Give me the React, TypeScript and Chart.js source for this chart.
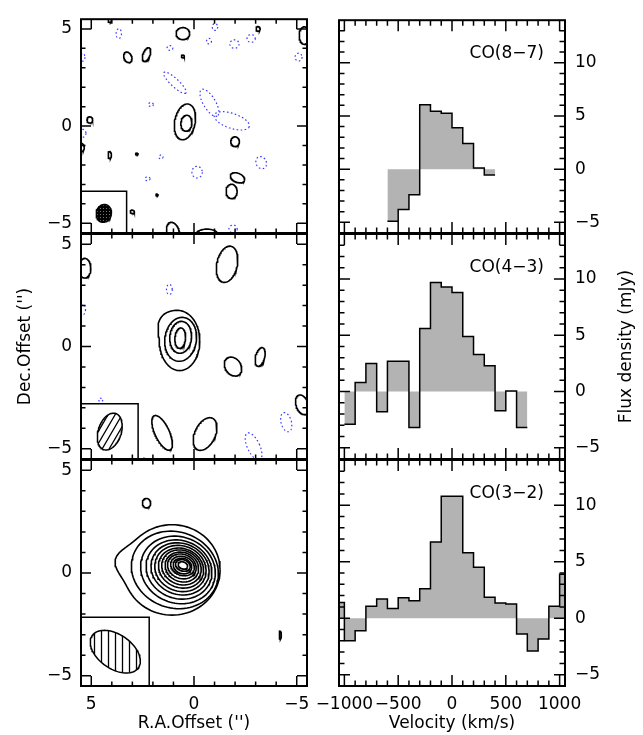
import React, { useEffect, useRef } from 'react';
import { Chart, registerables } from 'chart.js';

Chart.register(...registerables);

const FONT = 'DejaVu Sans';
const MINUS = '\u2212';

// ---------------- spectra (bin centres in km/s, flux density in mJy) ----------------
const binWidth = 100;
const co87Velocity = [-550, -450, -350, -250, -150, -50, 50, 150, 250, 350];
const co87Flux = [-4.9, -3.8, -2.4, 6.05, 5.45, 5.25, 3.9, 2.4, 0.1, -0.55];

const co43Velocity = [-950, -850, -750, -650, -550, -450, -350, -250, -150, -50, 50, 150, 250, 350, 450, 550, 650];
const co43Flux = [-2.9, 0.8, 2.5, -1.8, 2.7, 2.7, -3.2, 5.6, 9.7, 9.3, 8.8, 4.9, 3.3, 2.3, -1.7, 0.05, -3.2];

const co32Velocity = [-1050, -950, -850, -750, -650, -550, -450, -350, -250, -150, -50, 50, 150, 250, 350, 450, 550, 650, 750, 850, 950, 1050];
const co32Flux = [1.4, -2.0, -1.1, 1.05, 1.7, 0.85, 1.8, 1.55, 2.6, 6.75, 10.8, 10.8, 5.8, 4.5, 1.85, 1.35, 1.25, -1.4, -2.9, -1.85, 1.05, 3.9];

const lineLabels = ['CO(8\u22127)', 'CO(4\u22123)', 'CO(3\u22122)'];
const fluxTicks = [-5, 0, 5, 10];
const velocityTicks = [-1000, -500, 0, 500, 1000];
const mapTicks = [-5, 0, 5];

// ---------------- maps: contours as [x, y, a, b, tiltDeg, bumpDeg, bumpAmp, bumpWidth] (arcsec) --------
const co87Positive = [
  [0.44, 0.22, 0.5, 0.93, 10],
  [0.37, 0.15, 0.27, 0.41, 5],
  [0.54, 4.76, 0.33, 0.31, 0],
  [3.22, 3.54, 0.19, 0.28, -20],
  [2.31, 3.68, 0.17, 0.37, 20],
  [0.54, 3.59, 0.07, 0.07, 0],
  [-3.12, 5.0, 0.1, 0.12, 0],
  [-5.37, 4.66, 0.25, 0.45, 0],
  [5.07, 0.32, 0.14, 0.16, 0],
  [4.1, -1.49, 0.08, 0.18, 0],
  [2.78, -1.44, 0.06, 0.05, 0],
  [-2.0, -0.8, 0.21, 0.25, 0],
  [-2.12, -2.66, 0.37, 0.23, 25],
  [-1.83, -3.36, 0.27, 0.37, 0],
  [1.8, -3.54, 0.05, 0.05, 0],
  [3.0, -4.41, 0.1, 0.09, 0],
  [1.02, -5.44, 0.3, 0.5, -15],
  [-0.63, -5.6, 0.55, 0.3, 0],
  [5.46, -1.1, 0.12, 0.2, 0],
  [4.1, 5.45, 0.08, 0.12, 0],
];
const co87Negative = [
  [3.66, 4.76, 0.13, 0.25, 0],
  [1.17, 4.02, 0.14, 0.12, 0],
  [-1.02, 5.1, 0.13, 0.18, 0],
  [-0.73, 4.37, 0.12, 0.14, 0],
  [-1.97, 4.22, 0.22, 0.22, 0],
  [-2.78, 4.51, 0.2, 0.2, 0],
  [-5.09, 3.55, 0.17, 0.2, 0],
  [0.93, 2.23, 0.75, 0.2, 45],
  [-0.75, 1.2, 0.78, 0.3, 61],
  [-1.84, 0.27, 0.9, 0.38, 20],
  [2.1, 1.11, 0.12, 0.1, 0],
  [5.41, -0.37, 0.15, 0.2, 0],
  [1.61, -1.59, 0.1, 0.1, 0],
  [-0.15, -2.37, 0.25, 0.3, 0],
  [-3.27, -1.88, 0.25, 0.32, -20],
  [2.26, -2.71, 0.12, 0.1, 0],
  [-1.9, -5.29, 0.2, 0.2, 0],
  [5.41, 3.54, 0.1, 0.2, 0],
];
const co43Positive = [
  [0.67, 0.41, 0.26, 0.5, 5],
  [0.65, 0.45, 0.53, 0.78, 5],
  [0.65, 0.35, 0.77, 1.08, 8],
  [0.7, 0.27, 0.98, 1.45, 0, 228, 0.22, 0.5],
  [-1.61, 4.02, 0.5, 0.9, 12],
  [5.32, 3.83, 0.3, 0.48, 0],
  [-1.9, -0.98, 0.38, 0.5, -35],
  [-3.22, -0.51, 0.22, 0.47, 15],
  [-5.27, -2.85, 0.3, 0.5, -20],
  [1.55, -4.22, 0.35, 0.92, -25],
  [-0.54, -4.28, 0.5, 0.85, 25],
];
const co43Negative = [
  [1.2, 2.79, 0.14, 0.25, 0],
  [5.4, 1.81, 0.12, 0.25, 0],
  [4.54, -2.61, 0.1, 0.08, 0],
  [-4.49, -3.7, 0.25, 0.48, -15],
  [-2.9, -4.89, 0.3, 0.72, -25],
  [2.47, -5.55, 0.15, 0.1, 0],
];
const co32Positive = [
  [1.07, 0.15, 2.34, 2.2, 0, 190, 0.2, 0.3],
  [0.93, 0.15, 2.15, 1.85, 20],
  [0.78, 0.15, 1.85, 1.61, 22],
  [0.73, 0.17, 1.63, 1.41, 22],
  [0.68, 0.2, 1.44, 1.24, 22],
  [0.66, 0.22, 1.27, 1.1, 22],
  [0.63, 0.24, 1.12, 0.95, 22],
  [0.61, 0.27, 0.98, 0.83, 22],
  [0.59, 0.29, 0.83, 0.71, 22],
  [0.59, 0.32, 0.71, 0.59, 20],
  [0.56, 0.34, 0.59, 0.46, 20],
  [0.56, 0.34, 0.46, 0.37, 20],
  [0.54, 0.37, 0.37, 0.27, 20],
  [0.54, 0.37, 0.24, 0.17, 20],
  [2.31, 3.4, 0.2, 0.23, 0],
  [-4.2, -3.02, 0.05, 0.2, 0],
];
const co32Negative: number[][] = [];

const beams = [
  [4.39, -4.49, 0.37, 0.46, 10],
  [4.1, -4.16, 0.56, 0.93, 18],
  [3.83, -3.83, 1.37, 0.83, 35],
];
const beamBoxes = [
  [3.28, -3.35],
  [2.72, -2.8],
  [2.18, -2.15],
];
const beamFills = ['dots', 'diag', 'vert'];

const positives = [co87Positive, co43Positive, co32Positive];
const negatives = [co87Negative, co43Negative, co32Negative];
const velocities = [co87Velocity, co43Velocity, co32Velocity];
const fluxes = [co87Flux, co43Flux, co32Flux];

// ---------------- layout (page pixels) ----------------
const W = 643;
const H = 735;
const ROW_TOP = [8, 234, 460];
const ROW_BOTTOM = [233, 459, 686];
const MAP_LEFT = 81;
const MAP_RIGHT = 307;
const SPEC_LEFT = 339;
const SPEC_RIGHT = 565;

function fmt(v: number) {
  return v < 0 ? MINUS + Math.abs(v) : String(v);
}

function contourPoints(c: number[], n = 96) {
  const [cx, cy, a, b, deg, bumpDeg = 0, bumpAmp = 0, bumpW = 0.4] = c;
  const th = (deg * Math.PI) / 180;
  const pts: { x: number; y: number }[] = [];
  for (let i = 0; i <= n; i++) {
    const t = ((i % n) / n) * 2 * Math.PI;
    const lx = a * Math.cos(t);
    const ly = b * Math.sin(t);
    let sx = lx * Math.cos(th) - ly * Math.sin(th);
    let sy = lx * Math.sin(th) + ly * Math.cos(th);
    if (bumpAmp) {
      const phi = Math.atan2(sy, sx);
      let d = phi - (bumpDeg * Math.PI) / 180;
      d = Math.atan2(Math.sin(d), Math.cos(d));
      const f = 1 + bumpAmp * Math.exp(-((d / bumpW) ** 2));
      sx *= f;
      sy *= f;
    }
    pts.push({ x: cx - sx, y: cy - sy });
  }
  return pts;
}

function makePattern(kind: string): CanvasPattern | string {
  const c = document.createElement('canvas');
  const ctx = c.getContext('2d');
  if (!ctx) return '#000';
  if (kind === 'dots') {
    c.width = 3;
    c.height = 3;
    ctx.fillStyle = '#000';
    ctx.fillRect(0, 0, 3, 3);
    ctx.fillStyle = '#777';
    ctx.fillRect(1, 1, 1, 1);
  } else if (kind === 'vert') {
    c.width = 7;
    c.height = 7;
    ctx.fillStyle = '#fff';
    ctx.fillRect(0, 0, 7, 7);
    ctx.strokeStyle = '#000';
    ctx.lineWidth = 1.3;
    ctx.beginPath();
    ctx.moveTo(3.5, 0);
    ctx.lineTo(3.5, 7);
    ctx.stroke();
  } else {
    const tw = 7;
    const th = 12;
    c.width = tw;
    c.height = th;
    ctx.fillStyle = '#fff';
    ctx.fillRect(0, 0, tw, th);
    ctx.strokeStyle = '#000';
    ctx.lineWidth = 1.3;
    ctx.beginPath();
    for (const dx of [-tw, 0, tw]) {
      for (const dy of [-th, 0, th]) {
        ctx.moveTo(dx, th + dy);
        ctx.lineTo(dx + tw, dy);
      }
    }
    ctx.stroke();
  }
  return ctx.createPattern(c, 'repeat') || '#000';
}

type FrameOpts = {
  xMin: number; xMax: number; xStep: number; xMajor: number;
  yMin: number; yMax: number; yStep: number; yMajor: number;
  minor: number; major: number;
  label?: string;
  sideTitle?: string;
};

function framePlugin(o: FrameOpts) {
  return {
    id: 'frameTicks',
    afterDatasetsDraw(chart: any) {
      const { ctx, chartArea: a } = chart;
      const xs = chart.scales.x;
      const ys = chart.scales.y;
      ctx.save();
      ctx.strokeStyle = '#000';
      ctx.lineWidth = 1.5;
      ctx.beginPath();
      for (let k = Math.ceil(o.xMin / o.xStep); k * o.xStep <= o.xMax; k++) {
        const v = k * o.xStep;
        if (v <= o.xMin || v >= o.xMax) continue;
        const L = Math.abs(v % o.xMajor) < 1e-9 ? o.major : o.minor;
        const p = xs.getPixelForValue(v);
        ctx.moveTo(p, a.bottom);
        ctx.lineTo(p, a.bottom - L);
        ctx.moveTo(p, a.top);
        ctx.lineTo(p, a.top + L);
      }
      for (let k = Math.ceil(o.yMin / o.yStep); k * o.yStep <= o.yMax; k++) {
        const v = k * o.yStep;
        if (v <= o.yMin || v >= o.yMax) continue;
        const L = Math.abs(v % o.yMajor) < 1e-9 ? o.major : o.minor;
        const p = ys.getPixelForValue(v);
        ctx.moveTo(a.left, p);
        ctx.lineTo(a.left + L, p);
        ctx.moveTo(a.right, p);
        ctx.lineTo(a.right - L, p);
      }
      ctx.stroke();
      ctx.lineWidth = 2;
      ctx.strokeRect(a.left, a.top, a.right - a.left, a.bottom - a.top);
      ctx.fillStyle = '#000';
      ctx.font = `17px "${FONT}"`;
      if (o.label) {
        ctx.textAlign = 'right';
        ctx.textBaseline = 'alphabetic';
        ctx.fillText(o.label, a.right - 21, a.top + 38);
      }
      if (o.sideTitle) {
        ctx.translate(627, (a.top + a.bottom) / 2);
        ctx.rotate(-Math.PI / 2);
        ctx.textAlign = 'center';
        ctx.textBaseline = 'middle';
        ctx.fillText(o.sideTitle, 0, 0);
      }
      ctx.restore();
    },
  };
}

const tickFont = { family: FONT, size: 17 };

function makeMap(canvas: HTMLCanvasElement, i: number) {
  const bottomRow = i === 2;
  const datasets: any[] = [];
  const [bx, by] = beamBoxes[i];
  datasets.push({
    data: contourPoints(beams[i]),
    borderColor: '#000',
    borderWidth: 1.5,
    backgroundColor: makePattern(beamFills[i]),
    fill: 'shape',
    pointRadius: 0,
    clip: 0,
  });
  datasets.push({
    data: [
      { x: 5.5, y: -5.5 },
      { x: 5.5, y: by },
      { x: bx, y: by },
      { x: bx, y: -5.5 },
      { x: 5.5, y: -5.5 },
    ],
    borderColor: '#000',
    borderWidth: 1.5,
    backgroundColor: '#fff',
    fill: 'shape',
    pointRadius: 0,
    clip: 0,
  });
  for (const c of negatives[i]) {
    datasets.push({
      data: contourPoints(c),
      borderColor: '#3a3aff',
      borderWidth: 1.2,
      borderDash: [1.6, 2.4],
      fill: false,
      pointRadius: 0,
      clip: 0,
    });
  }
  for (const c of positives[i]) {
    datasets.push({
      data: contourPoints(c),
      borderColor: '#000',
      borderWidth: 1.6,
      fill: false,
      pointRadius: 0,
      clip: 0,
    });
  }
  return new Chart(canvas, {
    type: 'line',
    data: { datasets },
    options: {
      animation: false,
      responsive: false,
      events: [],
      layout: {
        padding: {
          left: MAP_LEFT - 70,
          right: W - MAP_RIGHT,
          top: ROW_TOP[i],
          bottom: bottomRow ? 0 : H - ROW_BOTTOM[i],
        },
      },
      elements: { point: { radius: 0 }, line: { tension: 0 } },
      plugins: { legend: { display: false }, tooltip: { enabled: false } },
      scales: {
        x: {
          type: 'linear',
          min: -5.5,
          max: 5.5,
          reverse: true,
          display: bottomRow,
          grid: { display: false, drawTicks: false },
          border: { display: false },
          afterBuildTicks: (s: any) => {
            s.ticks = mapTicks.map((value) => ({ value }));
          },
          afterFit: bottomRow
            ? (s: any) => {
                s.height = 49;
              }
            : undefined,
          ticks: {
            autoSkip: false,
            maxRotation: 0,
            minRotation: 0,
            padding: 8,
            color: '#000',
            font: tickFont,
            callback: (v: any) => fmt(Number(v)),
          },
          title: {
            display: bottomRow,
            text: "R.A.Offset ('')",
            color: '#000',
            font: tickFont,
            padding: { top: 0, bottom: 1 },
          },
        },
        y: {
          type: 'linear',
          min: -5.5,
          max: 5.5,
          position: 'left',
          grid: { display: false, drawTicks: false },
          border: { display: false },
          afterBuildTicks: (s: any) => {
            s.ticks = mapTicks.map((value) => ({ value }));
          },
          afterFit: (s: any) => {
            s.width = 70;
          },
          ticks: {
            autoSkip: false,
            padding: 9,
            color: '#000',
            font: tickFont,
            callback: (v: any) => fmt(Number(v)),
          },
          title: {
            display: i === 1,
            text: "Dec.Offset ('')",
            color: '#000',
            font: tickFont,
            padding: { top: 4.5, bottom: 0 },
          },
        },
      },
    },
    plugins: [
      framePlugin({
        xMin: -5.5, xMax: 5.5, xStep: 1, xMajor: 5,
        yMin: -5.5, yMax: 5.5, yStep: 1, yMajor: 5,
        minor: 4.5, major: 10,
      }),
    ],
  } as any);
}

function makeSpectrum(canvas: HTMLCanvasElement, i: number) {
  const bottomRow = i === 2;
  const vel = velocities[i];
  const flux = fluxes[i];
  const pts = vel.map((v, k) => ({ x: v - binWidth / 2, y: flux[k] }));
  pts.push({ x: vel[vel.length - 1] + binWidth / 2, y: flux[flux.length - 1] });
  return new Chart(canvas, {
    type: 'line',
    data: {
      datasets: [
        {
          data: pts,
          stepped: 'before',
          borderColor: '#000',
          borderWidth: 1.5,
          backgroundColor: '#b3b3b3',
          fill: 'origin',
          pointRadius: 0,
          clip: 0,
        },
      ],
    },
    options: {
      animation: false,
      responsive: false,
      events: [],
      layout: {
        padding: {
          left: SPEC_LEFT,
          right: W - SPEC_RIGHT - 78,
          top: ROW_TOP[i],
          bottom: bottomRow ? 0 : H - ROW_BOTTOM[i],
        },
      },
      elements: { point: { radius: 0 } },
      plugins: { legend: { display: false }, tooltip: { enabled: false } },
      scales: {
        x: {
          type: 'linear',
          min: -1050,
          max: 1050,
          display: bottomRow,
          grid: { display: false, drawTicks: false },
          border: { display: false },
          afterBuildTicks: (s: any) => {
            s.ticks = velocityTicks.map((value) => ({ value }));
          },
          afterFit: bottomRow
            ? (s: any) => {
                s.height = 49;
              }
            : undefined,
          ticks: {
            autoSkip: false,
            maxRotation: 0,
            minRotation: 0,
            padding: 8,
            color: '#000',
            font: tickFont,
            callback: (v: any) => fmt(Number(v)),
          },
          title: {
            display: bottomRow,
            text: 'Velocity (km/s)',
            color: '#000',
            font: tickFont,
            padding: { top: 0, bottom: 1 },
          },
        },
        y: {
          type: 'linear',
          min: -6,
          max: 14,
          position: 'right',
          grid: { display: false, drawTicks: false },
          border: { display: false },
          afterBuildTicks: (s: any) => {
            s.ticks = fluxTicks.map((value) => ({ value }));
          },
          afterFit: (s: any) => {
            s.width = 78;
          },
          ticks: {
            autoSkip: false,
            padding: 10,
            color: '#000',
            font: tickFont,
            callback: (v: any) => fmt(Number(v)),
          },
        },
      },
    },
    plugins: [
      framePlugin({
        xMin: -1050, xMax: 1050, xStep: 100, xMajor: 500,
        yMin: -6, yMax: 14, yStep: 1, yMajor: 5,
        minor: 5.5, major: 11,
        label: lineLabels[i],
        sideTitle: i === 1 ? 'Flux density (mJy)' : undefined,
      }),
    ],
  } as any);
}

export default function App() {
  const refs = useRef<(HTMLCanvasElement | null)[]>([]);
  useEffect(() => {
    Chart.defaults.font.family = FONT;
    const charts: Chart[] = [];
    for (let i = 0; i < 3; i++) {
      const m = refs.current[i];
      const s = refs.current[3 + i];
      if (m) charts.push(makeMap(m, i));
      if (s) charts.push(makeSpectrum(s, i));
    }
    return () => {
      charts.forEach((c) => c.destroy());
    };
  }, []);
  return (
    <div
      style={{
        position: 'fixed',
        left: 0,
        top: 0,
        width: W,
        height: H,
        background: '#fff',
        overflow: 'hidden',
      }}
    >
      {[0, 1, 2, 3, 4, 5].map((k) => (
        <canvas
          key={k}
          ref={(el) => {
            refs.current[k] = el;
          }}
          width={W}
          height={H}
          style={{ position: 'absolute', left: 0, top: 0, width: W, height: H, pointerEvents: 'none' }}
        />
      ))}
    </div>
  );
}
